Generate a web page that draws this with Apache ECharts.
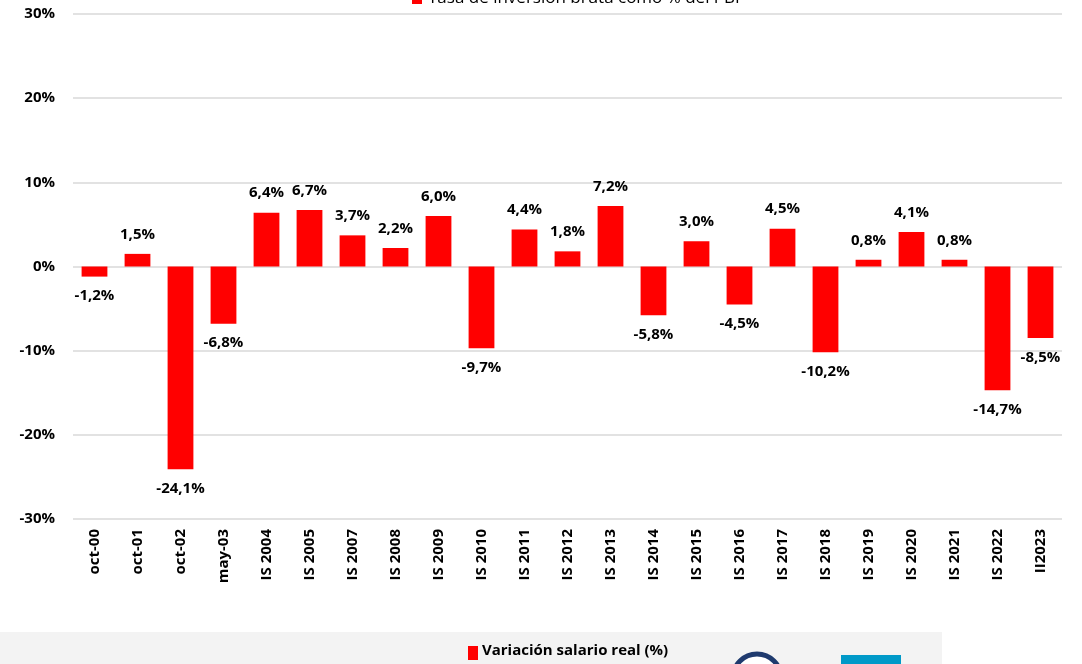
<!DOCTYPE html>
<html>
<head>
<meta charset="utf-8">
<script src="https://cdn.jsdelivr.net/npm/echarts@6/dist/echarts.min.js"></script>
<style>
  html, body { margin: 0; padding: 0; background: #fff; }
  #chart { width: 1082px; height: 664px; }
</style>
</head>
<body>
<div id="chart"></div>
<script>
// periodos
var categories = ["oct-00", "oct-01", "oct-02", "may-03", "IS 2004", "IS 2005", "IS 2007",
  "IS 2008", "IS 2009", "IS 2010", "IS 2011", "IS 2012", "IS 2013", "IS 2014", "IS 2015",
  "IS 2016", "IS 2017", "IS 2018", "IS 2019", "IS 2020", "IS 2021", "IS 2022", "II2023"];
// variacion salario real (%)
var salarioReal = [-1.2, 1.5, -24.1, -6.8, 6.4, 6.7, 3.7, 2.2, 6.0, -9.7, 4.4, 1.8, 7.2,
  -5.8, 3.0, -4.5, 4.5, -10.2, 0.8, 4.1, 0.8, -14.7, -8.5];
var yTicks = [-30, -20, -10, 0, 10, 20, 30];

var font = "'Open Sans', 'DejaVu Sans', sans-serif";
var chart = echarts.init(document.getElementById("chart"));

var option = {
  backgroundColor: "#ffffff",
  animation: false,
  textStyle: { fontFamily: font },
  grid: { left: 73, right: 20, top: 14, bottom: 145 },
  xAxis: {
    type: "category",
    data: categories,
    position: "bottom",
    axisLine: { show: false },
    axisTick: { show: false },
    axisLabel: {
      rotate: 90,
      margin: 10,
      color: "#000",
      fontWeight: "bold",
      fontSize: 15,
      fontFamily: font
    }
  },
  yAxis: {
    type: "value",
    min: yTicks[0],
    max: yTicks[yTicks.length - 1],
    interval: 10,
    axisLine: { show: false },
    axisTick: { show: false },
    splitLine: { lineStyle: { color: "#d9d9d9", width: 1.5 } },
    axisLabel: {
      margin: 18,
      color: "#000",
      fontWeight: "bold",
      fontSize: 15,
      fontFamily: font,
      formatter: "{value}%"
    }
  },
  series: [
    {
      name: "Variación salario real (%)",
      type: "bar",
      barWidth: "60%",
      itemStyle: { color: "#ff0000" },
      data: salarioReal.map(function (v) {
        return {
          value: v,
          label: { position: v >= 0 ? "top" : "bottom" }
        };
      }),
      label: {
        show: true,
        distance: 12,
        color: "#000",
        fontWeight: "bold",
        fontSize: 15,
        fontFamily: font,
        formatter: function (p) {
          return p.value.toFixed(1).replace(".", ",") + "%";
        }
      }
    }
  ],
  graphic: [
    // leyenda superior cortada
    { type: "rect", left: 412, top: -5, shape: { width: 10, height: 9 }, style: { fill: "#ff0000" } },
    { type: "text", left: 428, top: -10,
      style: { text: "Tasa de inversión bruta como % del PBI", fill: "#000", font: "17px " + font } },
    // franja inferior
    { type: "rect", left: 0, top: 632, shape: { width: 942, height: 40 }, style: { fill: "#f3f3f3" } },
    { type: "rect", left: 468, top: 646, shape: { width: 10, height: 14 }, style: { fill: "#ff0000" } },
    { type: "text", left: 482, top: 643,
      style: { text: "Variación salario real (%)", fill: "#000", font: "bold 15px " + font } },
    { type: "circle", shape: { cx: 757, cy: 678, r: 24 },
      style: { fill: "#ffffff", stroke: "#1f3a6e", lineWidth: 5 } },
    { type: "rect", left: 841, top: 655, shape: { width: 60, height: 12 }, style: { fill: "#0099c8" } }
  ]
};

chart.setOption(option);
</script>
</body>
</html>
